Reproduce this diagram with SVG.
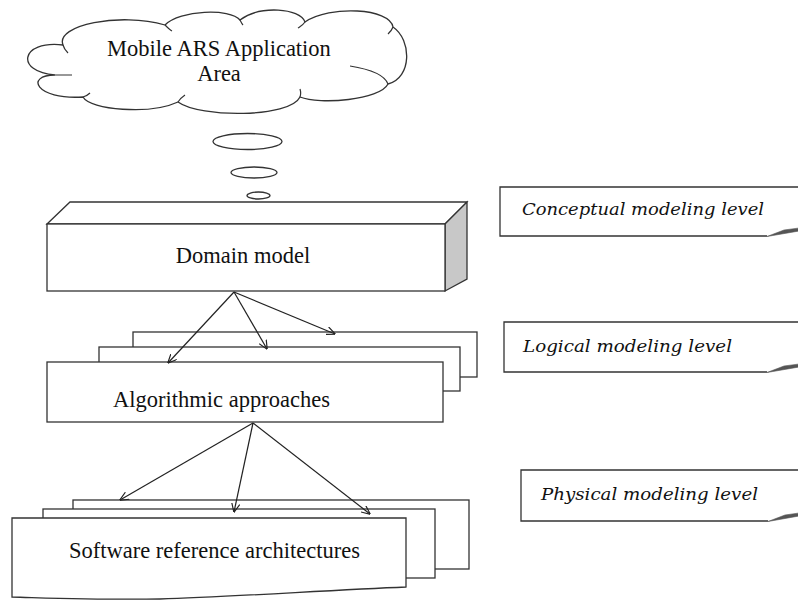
<svg xmlns="http://www.w3.org/2000/svg" width="798" height="600" viewBox="0 0 798 600">
<defs>
<style>
.s{fill:#fff;stroke:#333;stroke-width:1.3}
.t{font-family:"Liberation Serif","Times New Roman",serif;font-size:22.5px;fill:#111;text-anchor:middle}
.it{font-family:"DejaVu Serif","Liberation Serif",serif;font-style:italic;font-size:17px;fill:#111}
.c{stroke:#222;stroke-width:1.2;fill:none;marker-end:url(#ah)}
.fold{fill:#555;stroke:#555;stroke-width:0.6}
</style>
<marker id="ah" viewBox="0 0 10 10" refX="9.5" refY="5" markerWidth="9" markerHeight="9" markerUnits="userSpaceOnUse" orient="auto">
<path d="M0,0.5 L10,5 L0,9.5" fill="none" stroke="#222" stroke-width="1.3"/>
</marker>
</defs>
<rect width="798" height="600" fill="#fff"/>

<g id="cloud">
<path class="s" d="M63,45 C55,25 120,12 165,25 C180,10 230,8 240,20 C260,5 300,8 305,22 C330,5 390,8 393,27 C412,40 412,78 388,84 C380,100 320,105 300,97 C290,118 200,118 178,102 C150,115 90,110 83,97 C35,100 25,75 55,75 C15,72 20,40 63,45 Z"/>
<path d="M63,45 C64,49 66,51 68,53 M165,25 C168,28 170,30 172,31 M240,20 C241,22 242,24 243,25 M305,22 C303,25 301,26 298,28 M393,27 C392,30 390,32 388,34 M388,84 C385,76 375,70 350,66 M300,97 C301,94 301,92 300,89 M178,102 C180,99 182,97 185,95 M83,97 C86,96 88,95 90,93 M55,75 C60,75 66,75 72,75" fill="none" stroke="#333" stroke-width="1.2"/>
<text class="t" x="219" y="56">Mobile ARS Application</text>
<text class="t" x="219" y="81">Area</text>
</g>

<g id="bubbles">
<ellipse class="s" cx="247.5" cy="141.5" rx="34.5" ry="8"/>
<ellipse class="s" cx="254" cy="172.5" rx="23" ry="5.5"/>
<ellipse class="s" cx="258.5" cy="195.5" rx="11.5" ry="3.5"/>
</g>

<g id="domain-model">
<polygon class="s" points="47,224 70,202 467,202 445,224"/>
<polygon class="s" style="fill:#c8c8c8" points="445,224 467,202 467,279 445,291"/>
<rect class="s" x="47" y="224" width="398" height="67"/>
<text class="t" x="243" y="263">Domain model</text>
</g>

<g id="algorithmic-approaches">
<rect class="s" x="133" y="332" width="344" height="45"/>
<rect class="s" x="99" y="347" width="361" height="44"/>
<rect class="s" x="47" y="362" width="396" height="60"/>
<text class="t" x="221.5" y="407">Algorithmic approaches</text>
</g>

<g id="software-reference-architectures">
<rect class="s" x="73" y="500" width="396" height="69"/>
<rect class="s" x="43" y="509" width="392" height="69"/>
<path class="s" d="M12,518 L406,518 L406,587 C330,590 230,597 160,599 C100,600 50,598 12,597 Z"/>
<text class="t" x="214.5" y="558">Software reference architectures</text>
</g>

<g id="conceptual-label">
<path class="s" d="M799,187 L500,187 L500,236 L767,236"/>
<polygon class="fold" points="767,236.5 784,230 799,228 799,231"/>
<text class="it" x="522" y="215" textLength="242" lengthAdjust="spacingAndGlyphs">Conceptual modeling level</text>
</g>

<g id="logical-label">
<path class="s" d="M799,322 L504,322 L504,372 L767,372"/>
<polygon class="fold" points="767,372.5 784,366 799,364 799,367"/>
<text class="it" x="523" y="352" textLength="209" lengthAdjust="spacingAndGlyphs">Logical modeling level</text>
</g>

<g id="physical-label">
<path class="s" d="M799,470 L521,470 L521,521 L768,521"/>
<polygon class="fold" points="768,521.5 785,515 799,513 799,516"/>
<text class="it" x="541" y="500" textLength="217" lengthAdjust="spacingAndGlyphs">Physical modeling level</text>
</g>

<g id="connectors">
<line class="c" x1="234" y1="292" x2="168" y2="363"/>
<line class="c" x1="234" y1="292" x2="267" y2="349"/>
<line class="c" x1="234" y1="292" x2="335" y2="334"/>
<line class="c" x1="253" y1="423" x2="120" y2="500"/>
<line class="c" x1="253" y1="423" x2="234" y2="512"/>
<line class="c" x1="253" y1="423" x2="370" y2="514"/>
</g>
</svg>
